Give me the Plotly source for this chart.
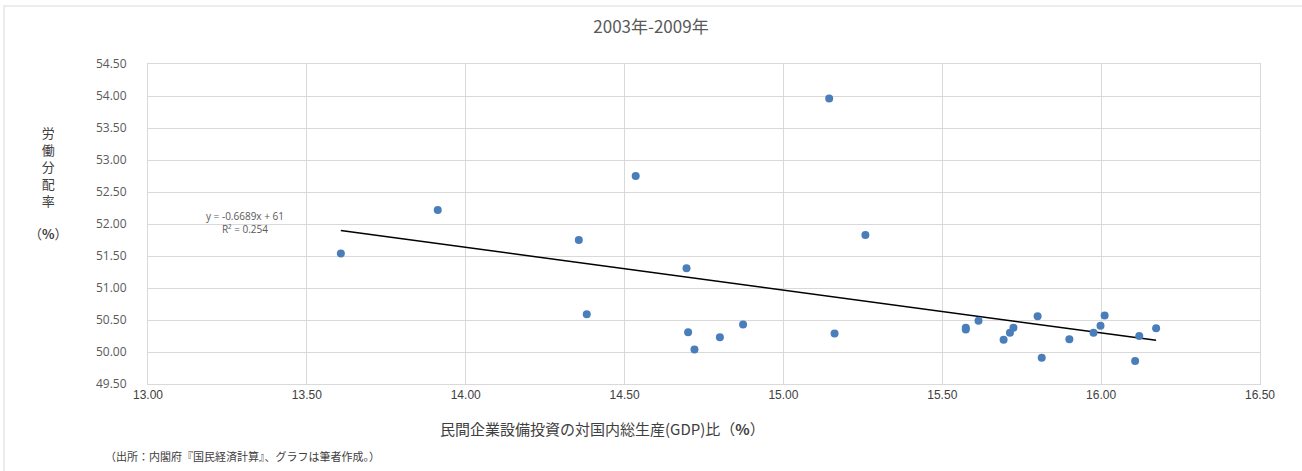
import plotly.graph_objects as go
import numpy as np

# Data (quarterly, 2003-2009)
investment_gdp_ratio = [13.607, 13.912, 14.356, 14.381, 14.535, 14.695, 14.700, 14.720,
                        14.800, 14.873, 15.144, 15.161, 15.258, 15.574, 15.574, 15.614,
                        15.693, 15.713, 15.724, 15.800, 15.813, 15.900, 15.976, 15.998,
                        16.011, 16.107, 16.120, 16.173]
labor_share = [51.54, 52.22, 51.75, 50.59, 52.75, 51.31, 50.31, 50.04,
               50.23, 50.43, 53.96, 50.29, 51.83, 50.38, 50.35, 50.49,
               50.19, 50.30, 50.38, 50.56, 49.91, 50.20, 50.30, 50.41,
               50.57, 49.86, 50.25, 50.37]

trend_slope = -0.6689
trend_intercept = 61.0

x_ticks = [13.0, 13.5, 14.0, 14.5, 15.0, 15.5, 16.0, 16.5]
y_ticks = [49.5, 50.0, 50.5, 51.0, 51.5, 52.0, 52.5, 53.0, 53.5, 54.0, 54.5]

title_text = "2003年-2009年"
x_title = "民間企業設備投資の対国内総生産(GDP)比（<b>%</b>）"
y_title = "労<br>働<br>分<br>配<br>率<br><br>（<b>%</b>）"
eq_text = "y = -0.6689x + 61<br>R² = 0.254"
source_text = "（出所：内閣府『国民経済計算』、グラフは筆者作成。）"

xt = np.array([min(investment_gdp_ratio), max(investment_gdp_ratio)])
yt = trend_slope * xt + trend_intercept

fig = go.Figure()
fig.add_trace(go.Scatter(x=xt, y=yt, mode="lines",
                         line=dict(color="black", width=1.5), hoverinfo="skip",
                         showlegend=False))
fig.add_trace(go.Scatter(x=investment_gdp_ratio, y=labor_share, mode="markers",
                         marker=dict(color="#4A7EBB", size=8, symbol="circle"),
                         showlegend=False))

grid = "#D9D9D9"
fig.update_layout(
    width=1302, height=471,
    margin=dict(l=148, r=42, t=64, b=87),
    paper_bgcolor="white", plot_bgcolor="white",
    font=dict(family="Open Sans, Noto Sans CJK JP, sans-serif", color="#595959"),
    title=dict(text=title_text, x=0.5, xanchor="center", y=1 - 27 / 471, yanchor="middle",
               font=dict(size=17, color="#595959", family="Noto Sans CJK JP, sans-serif")),
    xaxis=dict(range=[13.0, 16.5], tickvals=x_ticks,
               ticktext=[f"{v:.2f}" for v in x_ticks],
               showgrid=True, gridcolor=grid, gridwidth=1,
               showline=True, linecolor=grid, mirror=True, zeroline=False,
               tickfont=dict(size=12, color="#404040", family="Liberation Sans, Arial"),
               ticks="", ticklen=0),
    yaxis=dict(range=[49.5, 54.5], tickvals=y_ticks,
               ticktext=[f"{v:.2f}" for v in y_ticks],
               showgrid=True, gridcolor=grid, gridwidth=1,
               showline=True, linecolor=grid, mirror=True, zeroline=False,
               tickfont=dict(size=12, color="#595959", family="Open Sans"),
               ticks="outside", ticklen=18, tickcolor="white"),
)

fig.add_annotation(text=y_title, xref="paper", yref="paper",
                   x=-(148 - 48) / 1112, y=1 - (183 - 64) / 320,
                   showarrow=False, xanchor="center", yanchor="middle",
                   font=dict(size=13, color="#404040", family="Noto Sans CJK JP"),
                   align="center")
fig.add_annotation(text=eq_text, xref="paper", yref="paper",
                   x=(245 - 148) / 1112, y=1 - (222 - 64) / 320,
                   showarrow=False, xanchor="center", yanchor="middle",
                   font=dict(size=10, color="#595959", family="Open Sans"),
                   align="center")
fig.add_annotation(text=x_title, xref="paper", yref="paper",
                   x=(602 - 148) / 1112, y=-(428 - 384) / 320,
                   showarrow=False, xanchor="center", yanchor="middle",
                   font=dict(size=15, color="#404040", family="Noto Sans CJK JP"))
fig.add_annotation(text=source_text, xref="paper", yref="paper",
                   x=(103 - 148) / 1112, y=-(456 - 384) / 320,
                   showarrow=False, xanchor="left", yanchor="middle",
                   font=dict(size=11, color="#404040", family="Noto Sans CJK JP"))

# Outer chart border
fig.add_shape(type="rect", xref="paper", yref="paper",
              x0=-(148 - 4) / 1112, x1=(1310 - 148) / 1112,
              y0=-(480 - 384) / 320, y1=1 + (64 - 6) / 320,
              line=dict(color="#E6E6E6", width=1.5), layer="below")

fig.write_html("out.html")
